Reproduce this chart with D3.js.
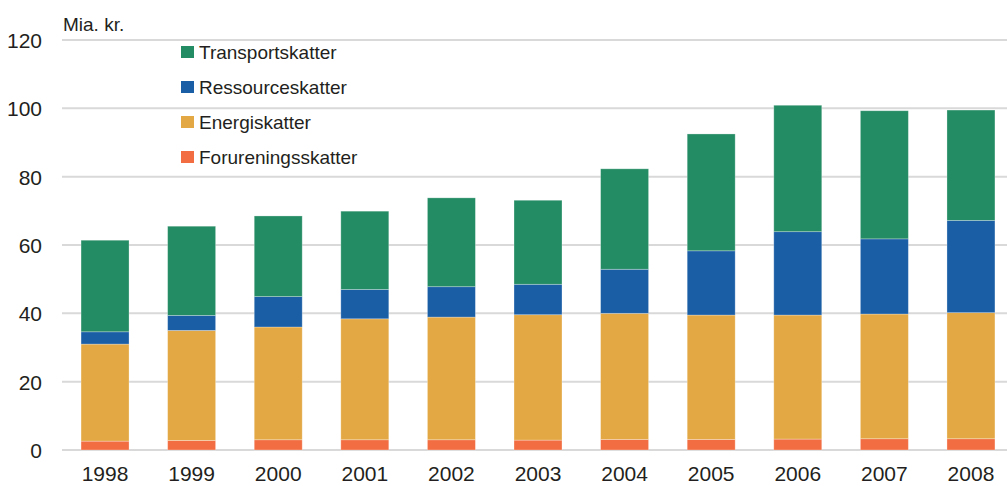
<!DOCTYPE html>
<html>
<head>
<meta charset="utf-8">
<script src="https://cdn.jsdelivr.net/npm/d3@7"></script>
<style>
  body { margin: 0; background: #fff; }
  text { font-family: "Liberation Sans Narrow", "Liberation Sans", sans-serif; fill: #231f20; }
</style>
</head>
<body>
<svg id="chart" width="1007" height="486"></svg>
<script>
// data (Mia. kr.)
let years = ["1998", "1999", "2000", "2001", "2002", "2003", "2004", "2005", "2006", "2007", "2008"];
let forurening = [2.6, 2.8, 3.0, 3.0, 3.0, 2.9, 3.1, 3.1, 3.2, 3.3, 3.3];
let energi     = [28.4, 32.2, 33.0, 35.4, 35.9, 36.7, 36.9, 36.4, 36.3, 36.5, 36.9];
let ressource  = [3.6, 4.4, 8.9, 8.6, 8.9, 8.9, 12.9, 18.8, 24.4, 22.0, 27.0];
let transport  = [26.8, 26.1, 23.6, 22.9, 26.0, 24.6, 29.4, 34.2, 37.0, 37.5, 32.3];
let yTicks = [0, 20, 40, 60, 80, 100, 120];

let seriesNames = ["Forureningsskatter", "Energiskatter", "Ressourceskatter", "Transportskatter"];
let seriesColors = ["#f26e42", "#e3a843", "#1a5ea6", "#248c64"];

let svg = d3.select("#chart");

// build rows for d3.stack
let rows = years.map((yr, i) => ({
    year: yr,
    Forureningsskatter: forurening[i],
    Energiskatter: energi[i],
    Ressourceskatter: ressource[i],
    Transportskatter: transport[i]
}));

let stacked = d3.stack().keys(seriesNames)(rows);

let x = d3.scaleBand()
    .domain(years)
    .range([62, 1014])
    .paddingInner(0.446)
    .paddingOuter(0.22);

let y = d3.scaleLinear()
    .domain([0, 120])
    .range([450, 40]);

// gridlines
svg.append("g")
    .selectAll("line")
    .data(yTicks)
    .enter()
    .append("line")
    .attr("x1", 62)
    .attr("x2", 1007)
    .attr("y1", d => y(d))
    .attr("y2", d => y(d))
    .attr("stroke", "#d9d9da")
    .attr("stroke-width", 2);

// y tick labels
svg.append("g")
    .selectAll("text")
    .data(yTicks)
    .enter()
    .append("text")
    .attr("x", 42)
    .attr("y", d => y(d) + 8)
    .attr("text-anchor", "end")
    .style("font-size", "21px")
    .text(d => d);

svg.append("text")
    .attr("x", 63)
    .attr("y", 31)
    .style("font-size", "19px")
    .text("Mia. kr.");

// bars
svg.append("g")
    .selectAll("g")
    .data(stacked)
    .enter()
    .append("g")
    .attr("fill", (d, i) => seriesColors[i])
    .selectAll("rect")
    .data(d => d)
    .enter()
    .append("rect")
    .attr("x", d => x(d.data.year))
    .attr("width", x.bandwidth())
    .attr("y", d => y(d[1]))
    .attr("height", d => y(d[0]) - y(d[1]))
    .attr("stroke", "rgba(255,255,255,0.35)")
    .attr("stroke-width", 0.8);

// x labels
svg.append("g")
    .selectAll("text")
    .data(years)
    .enter()
    .append("text")
    .attr("x", d => x(d) + x.bandwidth() / 2)
    .attr("y", 481)
    .attr("text-anchor", "middle")
    .style("font-size", "21px")
    .text(d => d);

// legend (top item = Transportskatter)
let legendOrder = seriesNames.slice().reverse();
let legendColors = seriesColors.slice().reverse();

let legend = svg.append("g");
legend.selectAll("rect")
    .data(legendOrder)
    .enter()
    .append("rect")
    .attr("x", 181)
    .attr("y", (d, i) => 46 + i * 35)
    .attr("width", 13)
    .attr("height", 12)
    .attr("fill", (d, i) => legendColors[i]);

legend.selectAll("text")
    .data(legendOrder)
    .enter()
    .append("text")
    .attr("x", 199)
    .attr("y", (d, i) => 59 + i * 35)
    .style("font-size", "19px")
    .text(d => d);
</script>
</body>
</html>
